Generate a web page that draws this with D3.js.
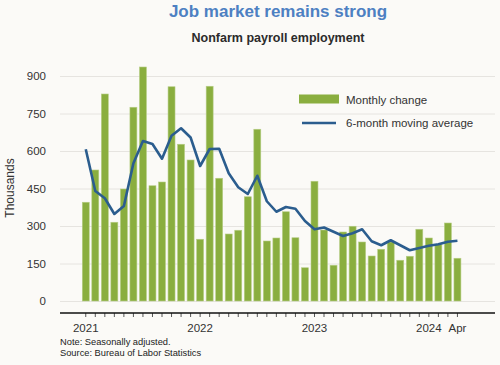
<!DOCTYPE html>
<meta charset="utf-8">
<style>
    body { margin: 0; background: #fbfaf7; }
    svg { display: block; font-family: "Liberation Sans", Arial, sans-serif; }
</style>
<body>
<script src="https://cdn.jsdelivr.net/npm/d3@7"></script>
<script>

    // Chart data (thousands).
    var months = d3.timeMonth.range(new Date(2021, 0, 1), new Date(2024, 4, 1));
    var monthlyChange = [395, 524, 828, 315, 448, 775, 936, 461, 476, 857, 627, 564,
                         247, 859, 491, 268, 283, 417, 687, 240, 252, 357, 253, 133,
                         479, 284, 143, 276, 299, 236, 180, 207, 236, 163, 179, 287,
                         252, 226, 312, 171];
    var movingAvg = [607, 440, 411, 348, 380, 551, 640, 628, 569, 661, 691, 654,
                     540, 608, 609, 511, 455, 428, 501, 399, 357, 376, 369, 320,
                     287, 294, 277, 260, 271, 287, 239, 223, 243, 223, 203, 212,
                     221, 227, 237, 241];
    var yTicks = [0, 150, 300, 450, 600, 750, 900];
    var xLabels = [{i: 0, text: '2021'}, {i: 12, text: '2022'}, {i: 24, text: '2023'},
                   {i: 36, text: '2024'}, {i: 39, text: 'Apr'}];

    var width = 500, height = 365;
    var barColor = '#8aae3f';
    var lineColor = '#2b5d8e';

    var svg = d3.select('body').append('svg')
        .attr('width', width)
        .attr('height', height);

    var x = d3.scaleBand()
        .domain(d3.range(months.length))
        .range([81, 462.2])
        .paddingInner(0.27)
        .paddingOuter(0.135);

    var y = d3.scaleLinear()
        .domain([0, 900])
        .range([301, 76]);

    // titles
    svg.append('text')
        .attr('x', 278).attr('y', 17)
        .attr('text-anchor', 'middle')
        .style('font-size', '17px').style('font-weight', 'bold')
        .style('fill', '#4d80c2')
        .text('Job market remains strong');

    svg.append('text')
        .attr('x', 278).attr('y', 42)
        .attr('text-anchor', 'middle')
        .style('font-size', '12.5px').style('font-weight', 'bold')
        .style('fill', '#2b2b2b')
        .text('Nonfarm payroll employment');

    // y axis with gridlines
    var yAxis = svg.append('g')
        .attr('transform', 'translate(60,0)')
        .call(d3.axisLeft(y).tickValues(yTicks).tickSize(-435).tickPadding(14));
    yAxis.select('.domain').remove();
    yAxis.selectAll('line').attr('stroke', '#e6e4e0');
    yAxis.selectAll('text')
        .style('font-size', '11.5px')
        .style('fill', '#333')
        .style('font-family', '"Liberation Sans", Arial, sans-serif');

    svg.append('text')
        .attr('transform', 'translate(14,188) rotate(-90)')
        .attr('text-anchor', 'middle')
        .style('font-size', '12px')
        .style('fill', '#333')
        .text('Thousands');

    // bars
    svg.append('g').selectAll('rect')
        .data(monthlyChange)
        .enter().append('rect')
        .attr('x', function(d, i) { return x(i); })
        .attr('y', function(d) { return y(d); })
        .attr('width', x.bandwidth())
        .attr('height', function(d) { return y(0) - y(d); })
        .attr('fill', barColor)
        .attr('stroke', '#b6cd86')
        .attr('stroke-width', 0.6);

    // moving average line
    var line = d3.line()
        .x(function(d, i) { return x(i) + x.bandwidth() / 2; })
        .y(function(d) { return y(d); });

    svg.append('path')
        .datum(movingAvg)
        .attr('d', line)
        .attr('fill', 'none')
        .attr('stroke', lineColor)
        .attr('stroke-width', 2.6)
        .attr('stroke-linejoin', 'round');

    // x axis: month ticks under a black baseline
    var xAxis = svg.append('g')
        .attr('transform', 'translate(0,313)')
        .call(d3.axisBottom(x).tickSize(4).tickFormat(''));
    xAxis.select('.domain').remove();
    xAxis.selectAll('line').attr('stroke', '#555');

    svg.append('line')
        .attr('x1', 60).attr('x2', 495)
        .attr('y1', 313).attr('y2', 313)
        .attr('stroke', '#111')
        .attr('stroke-width', 1.6);

    svg.append('g').selectAll('text')
        .data(xLabels)
        .enter().append('text')
        .attr('x', function(d) { return x(d.i) + x.bandwidth() / 2; })
        .attr('y', 332)
        .attr('text-anchor', 'middle')
        .style('font-size', '11.5px')
        .style('fill', '#333')
        .text(function(d) { return d.text; });

    // legend
    var legend = svg.append('g');
    legend.append('rect')
        .attr('x', 299).attr('y', 94.5)
        .attr('width', 40).attr('height', 9)
        .attr('fill', barColor);
    legend.append('line')
        .attr('x1', 302).attr('x2', 336)
        .attr('y1', 123).attr('y2', 123)
        .attr('stroke', lineColor)
        .attr('stroke-width', 2.6);
    legend.append('text')
        .attr('x', 346).attr('y', 103.5)
        .style('font-size', '11.5px').style('fill', '#333')
        .text('Monthly change');
    legend.append('text')
        .attr('x', 346).attr('y', 127)
        .style('font-size', '11.5px').style('fill', '#333')
        .text('6-month moving average');

    // notes
    svg.append('text')
        .attr('x', 60).attr('y', 345)
        .style('font-size', '9.3px').style('fill', '#222')
        .text('Note: Seasonally adjusted.');
    svg.append('text')
        .attr('x', 60).attr('y', 356)
        .style('font-size', '9.3px').style('fill', '#222')
        .text('Source: Bureau of Labor Statistics');

</script>
</body>
